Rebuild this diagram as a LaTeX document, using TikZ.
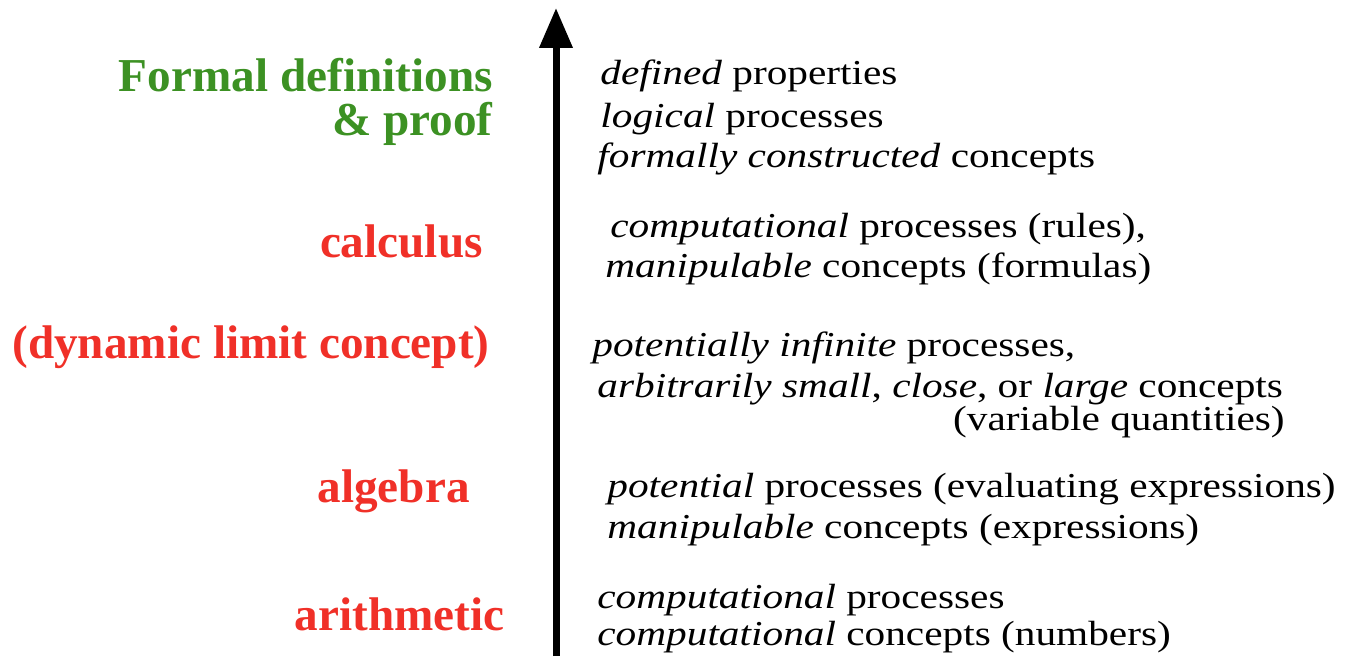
\documentclass[tikz,border=0pt]{standalone}
\usepackage{fontspec}
\setmainfont{Liberation Serif}
\newfontfamily\descfont[FakeStretch=1.18]{Liberation Serif}
\usetikzlibrary{arrows.meta}
\definecolor{lvred}{RGB}{240,48,40}
\definecolor{lvgreen}{RGB}{60,145,35}
\tikzset{
  lvl/.style={anchor=base east, inner sep=0pt, font=\fontsize{23.6}{28}\selectfont\bfseries},
  desc/.style={anchor=base west, inner sep=0pt, font=\descfont\fontsize{17.5}{20}\selectfont},
}
\begin{document}
\begin{tikzpicture}[x=0.5pt,y=-0.5pt]
\useasboundingbox (0,0) rectangle (1350,658);
\coordinate (bot) at (556,656);
\coordinate (top) at (556,8);
\draw[line width=3.5pt, -{Triangle[length=20pt,width=16pt]}] (bot) -- (top);

\node[lvl, text=lvgreen] (formal) at (493,92) {Formal definitions};
\node[lvl, text=lvgreen] (proof) at (493,135) {\& proof};
\node[lvl, text=lvred] (calc) at (483,257) {calculus};
\node[lvl, text=lvred] (dyn) at (490,358) {(dynamic limit concept)};
\node[lvl, text=lvred] (alg) at (470,502) {algebra};
\node[lvl, text=lvred] (arith) at (505,630) {arithmetic};

\node[desc] (f1) at (600,85) {\textit{defined} properties};
\node[desc] (f2) at (600,127) {\textit{logical} processes};
\node[desc] (f3) at (597,168) {\textit{formally constructed} concepts};

\node[desc] (c1) at (610,237) {\textit{computational} processes (rules),};
\node[desc] (c2) at (605,278) {\textit{manipulable} concepts (formulas)};

\node[desc] (d1) at (592,356) {\textit{potentially infinite} processes,};
\node[desc] (d2) at (597,397) {\textit{arbitrarily small}, \textit{close}, or \textit{large} concepts};
\node[desc, anchor=base east] (d3) at (1285,430) {(variable quantities)};

\node[desc] (a1) at (607,497) {\textit{potential} processes (evaluating expressions)};
\node[desc] (a2) at (607,538) {\textit{manipulable} concepts (expressions)};

\node[desc] (r1) at (597,608) {\textit{computational} processes};
\node[desc] (r2) at (597,645) {\textit{computational} concepts (numbers)};
\end{tikzpicture}
\end{document}
